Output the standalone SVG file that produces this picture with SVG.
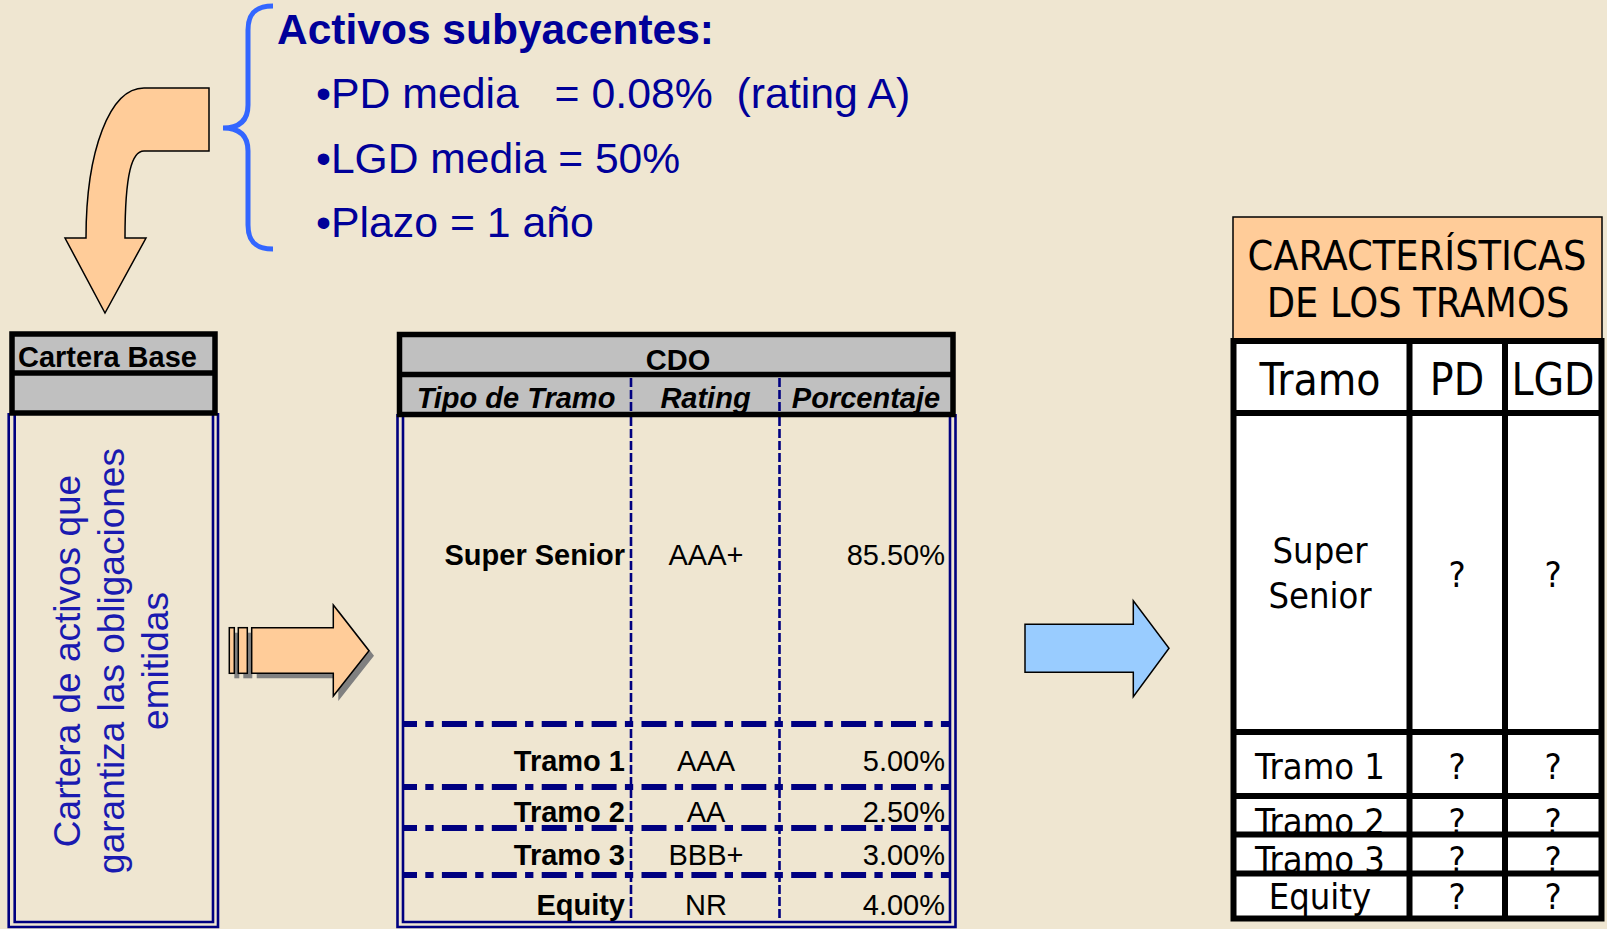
<svg xmlns="http://www.w3.org/2000/svg" width="1607" height="929" viewBox="0 0 1607 929">
<defs>
<style>
.sans{font-family:"Liberation Sans",Arial,sans-serif}
.blue{fill:#000099}
.t29{font-family:"Liberation Sans",Arial,sans-serif;font-size:29px;fill:#000}
.b{font-weight:bold}
.it{font-style:italic}
.thick{fill:none;stroke:#000;stroke-width:5.5}
.navy{fill:none;stroke:#000080;stroke-width:2.6}
.vdash{fill:none;stroke:#000080;stroke-width:2.6;stroke-dasharray:9 3}
.dd{fill:none;stroke:#000080;stroke-width:6;stroke-dasharray:25 8.3 8.3 8.3;stroke-dashoffset:12}
.tah{font-family:"DejaVu Sans Condensed","DejaVu Sans",sans-serif;font-stretch:condensed;fill:#000}
.grid{fill:none;stroke:#000;stroke-width:6}
.orange{fill:#FFCC99;stroke:#000;stroke-width:1.5;stroke-linejoin:miter}
.shadow{fill:#808080}
</style>
</defs>
<rect x="0" y="0" width="1607" height="929" fill="#EFE6D1"/>

<g id="connectors">
  <g id="arrow-bent">
    <path class="orange" d="M209,88 L144,88 C110,88 86,150 86,238 L65,238 L105,313 L146,238 L125,238 C125,173 132,151 144,151 L209,151 Z"/>
  </g>
  <g id="arrow-small">
    <g class="shadow" transform="translate(5,5)">
      <rect x="229.3" y="627.7" width="5" height="45.6"/>
      <rect x="238.3" y="627.7" width="9" height="45.6"/>
      <polygon points="251.7,627.7 333.3,627.7 333.3,605 369,650.7 333.3,696 333.3,673.3 251.7,673.3"/>
    </g>
    <rect class="orange" x="229.3" y="627.7" width="5" height="45.6"/>
    <rect class="orange" x="238.3" y="627.7" width="9" height="45.6"/>
    <polygon class="orange" points="251.7,627.7 333.3,627.7 333.3,605 369,650.7 333.3,696 333.3,673.3 251.7,673.3"/>
  </g>
  <g id="arrow-blue">
    <polygon fill="#99CCFF" stroke="#000" stroke-width="1.5" points="1025,624.3 1133.3,624.3 1133.3,600.7 1169,648.3 1133.3,696.7 1133.3,672.3 1025,672.3"/>
  </g>
</g>

<g id="brace">
  <path d="M273,6 C255,6 248,14 248,30 L248,105 C248,120 240,128 223,128 C240,128 248,136 248,151 L248,225 C248,241 255,249 273,249" fill="none" stroke="#3366FF" stroke-width="5"/>
</g>

<g id="activos" class="sans blue">
  <text x="277" y="44" font-size="42.5" font-weight="bold">Activos subyacentes:</text>
  <text x="316" y="108" font-size="42.8" xml:space="preserve">•PD media   = 0.08%  (rating A)</text>
  <text x="316" y="173" font-size="42.6">•LGD media = 50%</text>
  <text x="316" y="237" font-size="42.8">•Plazo = 1 año</text>
</g>

<g id="cartera-base">
  <rect x="12" y="334" width="203" height="79" fill="#C0C0C0"/>
  <path class="navy" d="M8.7,413 V927 H218 V413"/>
  <path class="navy" d="M14.7,413 V922 H213 V413"/>
  <rect class="thick" x="12" y="334" width="203" height="79"/>
  <line class="thick" x1="12" y1="373" x2="215" y2="373"/>
  <text class="t29 b" x="18" y="367">Cartera Base</text>
  <g class="sans" font-size="37" fill="#1A1AB0" text-anchor="middle">
    <text transform="translate(80,661) rotate(-90)">Cartera de activos que</text>
    <text transform="translate(124,661) rotate(-90)">garantiza las obligaciones</text>
    <text transform="translate(168,661) rotate(-90)">emitidas</text>
  </g>
</g>

<g id="cdo">
  <rect x="399.5" y="334.5" width="553.5" height="80" fill="#C0C0C0"/>
  <path class="navy" d="M397.5,414 V927 H955.5 V414"/>
  <path class="navy" d="M403,414 V922 H950 V414"/>
  <line class="vdash" x1="631" y1="378" x2="631" y2="412"/>
  <line class="vdash" x1="631" y1="417" x2="631" y2="922"/>
  <line class="vdash" x1="779.5" y1="378" x2="779.5" y2="412"/>
  <line class="vdash" x1="779.5" y1="417" x2="779.5" y2="922"/>
  <line class="dd" x1="404" y1="724" x2="950" y2="724"/>
  <line class="dd" x1="404" y1="787" x2="950" y2="787"/>
  <line class="dd" x1="404" y1="828" x2="950" y2="828"/>
  <line class="dd" x1="404" y1="875" x2="950" y2="875"/>
  <rect class="thick" x="399.5" y="334.5" width="553.5" height="80"/>
  <line class="thick" x1="399.5" y1="374.5" x2="953" y2="374.5"/>
  <text class="t29 b" x="678" y="370" text-anchor="middle">CDO</text>
  <g class="t29 b it" text-anchor="middle">
    <text x="516" y="408">Tipo de Tramo</text>
    <text x="705.5" y="408">Rating</text>
    <text x="866" y="408">Porcentaje</text>
  </g>
  <g class="t29 b" text-anchor="end">
    <text x="625" y="565">Super Senior</text>
    <text x="625" y="771">Tramo 1</text>
    <text x="625" y="822">Tramo 2</text>
    <text x="625" y="865">Tramo 3</text>
    <text x="625" y="915">Equity</text>
  </g>
  <g class="t29" text-anchor="middle">
    <text x="706" y="565">AAA+</text>
    <text x="706" y="771">AAA</text>
    <text x="706" y="822">AA</text>
    <text x="706" y="865">BBB+</text>
    <text x="706" y="915">NR</text>
  </g>
  <g class="t29" text-anchor="end">
    <text x="945" y="565">85.50%</text>
    <text x="945" y="771">5.00%</text>
    <text x="945" y="822">2.50%</text>
    <text x="945" y="865">3.00%</text>
    <text x="945" y="915">4.00%</text>
  </g>
</g>

<g id="caracteristicas">
  <rect class="orange" x="1233" y="217" width="369" height="124"/>
  <g class="tah" font-size="41" text-anchor="middle">
    <text x="1417" y="270">CARACTERÍSTICAS</text>
    <text x="1418" y="317">DE LOS TRAMOS</text>
  </g>
  <rect x="1233.5" y="341" width="368" height="577.5" fill="#FFFFFF"/>
  <g class="tah" font-size="44" text-anchor="middle">
    <text x="1320" y="395">Tramo</text>
    <text x="1457" y="395">PD</text>
    <text x="1553" y="395">LGD</text>
  </g>
  <g class="tah" font-size="36" text-anchor="middle">
    <text x="1320" y="563">Super</text>
    <text x="1320" y="608">Senior</text>
    <text x="1457" y="587">?</text>
    <text x="1553" y="587">?</text>
    <text x="1320" y="779">Tramo 1</text>
    <text x="1457" y="779">?</text>
    <text x="1553" y="779">?</text>
    <text x="1320" y="834">Tramo 2</text>
    <text x="1457" y="834">?</text>
    <text x="1553" y="834">?</text>
    <text x="1320" y="872">Tramo 3</text>
    <text x="1457" y="872">?</text>
    <text x="1553" y="872">?</text>
    <text x="1320" y="909">Equity</text>
    <text x="1457" y="909">?</text>
    <text x="1553" y="909">?</text>
  </g>
  <rect class="grid" x="1233.5" y="341" width="368" height="577.5"/>
  <line class="grid" x1="1409.5" y1="341" x2="1409.5" y2="918.5"/>
  <line class="grid" x1="1505" y1="341" x2="1505" y2="918.5"/>
  <line class="grid" x1="1233.5" y1="413" x2="1601.5" y2="413"/>
  <line class="grid" x1="1233.5" y1="732" x2="1601.5" y2="732"/>
  <line class="grid" x1="1233.5" y1="796" x2="1601.5" y2="796"/>
  <line class="grid" x1="1233.5" y1="834.5" x2="1601.5" y2="834.5"/>
  <line class="grid" x1="1233.5" y1="873.5" x2="1601.5" y2="873.5"/>
</g>
</svg>
